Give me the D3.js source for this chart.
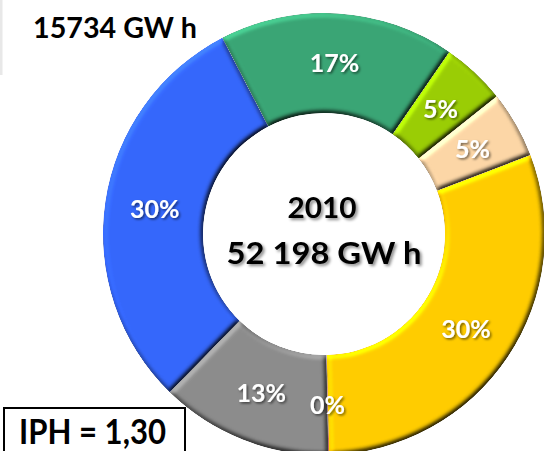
<!DOCTYPE html>
<html>
<head>
<meta charset="utf-8">
<script src="https://cdn.jsdelivr.net/npm/d3@7"></script>
<style>
  html, body { margin: 0; padding: 0; background: #fff; overflow: hidden; }
  svg { display: block; font-family: Lato, "Open Sans", sans-serif; }
</style>
</head>
<body>
<script>
// ---- data ----
const categories = ["Segment 1", "Segment 2", "Segment 3", "Segment 4", "Segment 5", "Segment 6", "Segment 7"];
const shares = [17.2, 4.7, 4.9, 30.45, 0.05, 12.6, 30.1];   // % of total
const sliceColors = ["#3aa575", "#9acd05", "#fcd6a6", "#ffcc00", "#c00000", "#8c8c8c", "#3567fb"];
const yearLabel = "2010";
const totalLabel = "52 198 GW h";
const topLabel = "15734 GW h";
const iphLabel = "IPH = 1,30";

// ---- layout ----
const W = 544, H = 451;
const cx = 324, cy = 234, R = 221, r = 121;
const startDeg = -27.4;

const svg = d3.select("body").append("svg").attr("width", W).attr("height", H);
const defs = svg.append("defs");

// bevel filter
const bevel = defs.append("filter").attr("id", "bevel")
  .attr("x", "-10%").attr("y", "-10%").attr("width", "120%").attr("height", "120%")
  .attr("color-interpolation-filters", "sRGB");
bevel.append("feGaussianBlur").attr("in", "SourceAlpha").attr("stdDeviation", 2.6).attr("result", "b");
const lit = bevel.append("feDiffuseLighting").attr("in", "b").attr("surfaceScale", 3)
  .attr("diffuseConstant", 1).attr("lighting-color", "#fff").attr("result", "l");
lit.append("feDistantLight").attr("azimuth", 235).attr("elevation", 52);
bevel.append("feComposite").attr("in", "SourceGraphic").attr("in2", "l")
  .attr("operator", "arithmetic").attr("k1", 1 / Math.sin(52 * Math.PI / 180)).attr("k2", 0).attr("k3", 0).attr("k4", 0).attr("result", "lit");
bevel.append("feComposite").attr("in", "lit").attr("in2", "SourceAlpha").attr("operator", "in");

// text shadows
const sh1 = defs.append("filter").attr("id", "shadowDark")
  .attr("x", "-20%").attr("y", "-30%").attr("width", "140%").attr("height", "160%");
sh1.append("feDropShadow").attr("dx", 2).attr("dy", 2).attr("stdDeviation", 1.4)
  .attr("flood-color", "#000").attr("flood-opacity", 0.45);
const sh2 = defs.append("filter").attr("id", "shadowLabel")
  .attr("x", "-20%").attr("y", "-30%").attr("width", "140%").attr("height", "160%");
sh2.append("feDropShadow").attr("dx", 1.5).attr("dy", 1.5).attr("stdDeviation", 1)
  .attr("flood-color", "#000").attr("flood-opacity", 0.55);

// faint strip at the left edge
svg.append("rect").attr("x", 0).attr("y", 0).attr("width", 2.5).attr("height", 75).attr("fill", "#e8e8e8");

// donut
const start = startDeg * Math.PI / 180;
const pie = d3.pie().sort(null).value(d => d.v).startAngle(start).endAngle(start + 2 * Math.PI);
const data = categories.map((c, i) => ({ c, v: shares[i], color: sliceColors[i] }));
const arcs = pie(data);
const arc = d3.arc().innerRadius(r).outerRadius(R);
const labelArc = d3.arc().innerRadius((r + R) / 2).outerRadius((r + R) / 2);

const g = svg.append("g").attr("transform", `translate(${cx},${cy})`);
g.selectAll("path.slice").data(arcs).enter().append("path")
  .attr("class", "slice")
  .attr("d", arc)
  .attr("fill", d => d.data.color)
  .attr("filter", "url(#bevel)");

g.selectAll("text.pct").data(arcs).enter().append("text")
  .attr("class", "pct")
  .attr("transform", d => `translate(${labelArc.centroid(d)})`)
  .attr("text-anchor", "middle")
  .attr("dy", "0.36em")
  .attr("fill", "#fff")
  .attr("font-weight", 700)
  .attr("font-size", 25)
  .attr("filter", "url(#shadowLabel)")
  .text(d => Math.round(d.data.v) + "%");

// center text
svg.append("text").attr("x", 322).attr("y", 218).attr("text-anchor", "middle")
  .attr("font-size", 28).attr("font-weight", 700).attr("fill", "#000")
  .attr("textLength", 69).attr("lengthAdjust", "spacingAndGlyphs")
  .attr("filter", "url(#shadowDark)").text(yearLabel);
svg.append("text").attr("x", 324).attr("y", 264).attr("text-anchor", "middle")
  .attr("font-size", 30).attr("font-weight", 700).attr("fill", "#000")
  .attr("textLength", 195).attr("lengthAdjust", "spacingAndGlyphs")
  .attr("filter", "url(#shadowDark)").text(totalLabel);

// top-left value
svg.append("text").attr("x", 33).attr("y", 38)
  .attr("font-size", 28).attr("font-weight", 700).attr("fill", "#000")
  .attr("textLength", 164).attr("lengthAdjust", "spacingAndGlyphs")
  .text(topLabel);

// IPH box
svg.append("rect").attr("x", 4).attr("y", 408).attr("width", 181).attr("height", 70)
  .attr("fill", "#fff").attr("stroke", "#000").attr("stroke-width", 2);
svg.append("text").attr("x", 19).attr("y", 444)
  .attr("font-size", 35).attr("font-weight", 700).attr("fill", "#000")
  .attr("textLength", 147).attr("lengthAdjust", "spacingAndGlyphs")
  .text(iphLabel);
</script>
</body>
</html>
